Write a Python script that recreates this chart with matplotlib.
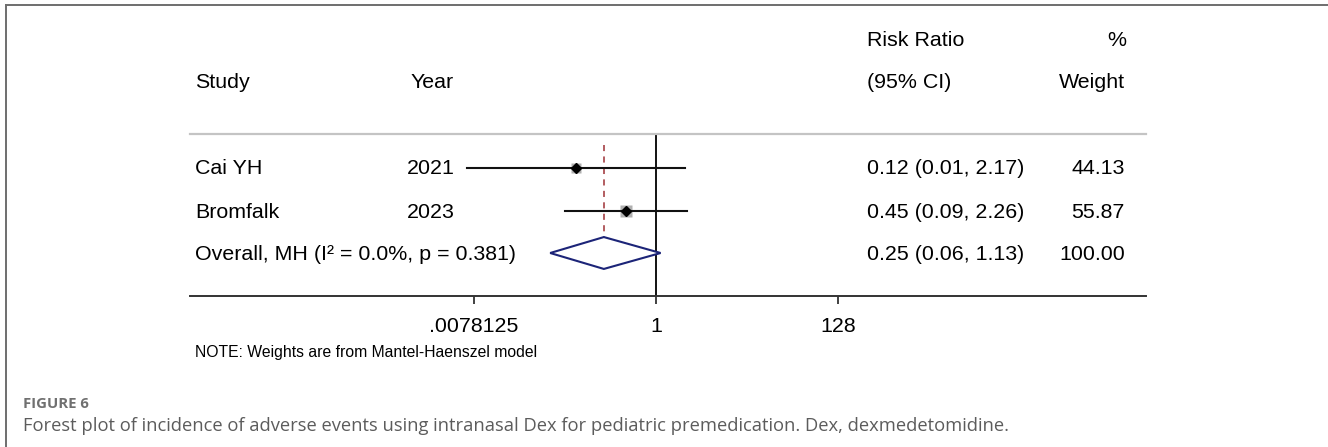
import numpy as np
import matplotlib
matplotlib.use("Agg")
import matplotlib.pyplot as plt
from matplotlib.lines import Line2D

# data
studies = ["Cai YH", "Bromfalk"]
years = ["2021", "2023"]
rr = [0.12, 0.45]
ci_lo = [0.0066, 0.09]
ci_hi = [2.17, 2.26]
weights = [44.13, 55.87]
rr_text = ["0.12 (0.01, 2.17)", "0.45 (0.09, 2.26)"]
weight_text = ["44.13", "55.87"]

overall_label = "Overall, MH (I\u00b2 = 0.0%, p = 0.381)"
overall_rr = 0.25
overall_lo = 0.06
overall_hi = 1.13
overall_text = "0.25 (0.06, 1.13)"
overall_weight = "100.00"

tick_vals = [2**-7, 1, 2**7]
tick_labels = [".0078125", "1", "128"]

W, H = 1328, 447
plt.rcParams['font.family'] = ['Liberation Sans', 'DejaVu Sans']

fig = plt.figure(figsize=(W/100, H/100), dpi=100)

def fx(x):
    return x / W

def fy(y):
    return 1 - y / H

# plot area in pixels: x 190..1146, y 134..296
ax = fig.add_axes([fx(190), fy(296), fx(1146) - fx(190), (296 - 134) / H])
ax.set_xscale('log', base=2)
px_per = 26.07
ax.set_xlim(2**((190 - 656) / px_per), 2**((1146 - 656) / px_per))
row_gap = 42.5
ax.set_ylim((296 - 168) / row_gap, (134 - 168) / row_gap)

for s in ['left', 'right']:
    ax.spines[s].set_visible(False)
ax.spines['top'].set_color('#c4c4c4')
ax.spines['top'].set_linewidth(1.6)
ax.spines['bottom'].set_color('#333333')
ax.spines['bottom'].set_linewidth(1.4)
ax.set_yticks([])
ax.set_xticks(tick_vals)
ax.set_xticklabels(tick_labels, fontsize=15.4)
ax.xaxis.set_minor_locator(matplotlib.ticker.NullLocator())
ax.tick_params(axis='x', direction='out', length=6, width=1.3, color='#333333', pad=9)

# null line
ax.axvline(1, color='black', lw=1.3)
# overall effect dashed line
ax.plot([overall_rr, overall_rr], [-0.55, 2.4], color='#9e3035', lw=1.1,
        dashes=(4, 3.5))

for i in range(len(studies)):
    ax.plot([ci_lo[i], ci_hi[i]], [i, i], color='#111111', lw=1.5, zorder=3)
    ms = 9.0 * (weights[i] / max(weights))
    ax.plot(rr[i], i, marker='s', ms=ms, color='#b0b0b0', mec='none', zorder=2)
    ax.plot(rr[i], i, marker='D', ms=5, color='black', zorder=4)

# overall diamond
dy = 0.375
ax.fill([overall_lo, overall_rr, overall_hi, overall_rr],
        [2, 2 - dy, 2, 2 + dy], facecolor='white', edgecolor='#1c2478',
        lw=1.5, zorder=3)

fs = 15.4
# headers
fig.text(fx(867), fy(40), "Risk Ratio", fontsize=fs, va='center')
fig.text(fx(1126), fy(40), "%", fontsize=fs, va='center', ha='right')
fig.text(fx(195), fy(82), "Study", fontsize=fs, va='center')
fig.text(fx(411), fy(82), "Year", fontsize=fs, va='center')
fig.text(fx(867), fy(82), "(95% CI)", fontsize=fs, va='center')
fig.text(fx(1125), fy(82), "Weight", fontsize=fs, va='center', ha='right')

row_y = [169, 212]
for i in range(len(studies)):
    fig.text(fx(195), fy(row_y[i]), studies[i], fontsize=fs, va='center')
    fig.text(fx(455), fy(row_y[i]), years[i], fontsize=fs, va='center', ha='right')
    fig.text(fx(867), fy(row_y[i]), rr_text[i], fontsize=fs, va='center')
    fig.text(fx(1125), fy(row_y[i]), weight_text[i], fontsize=fs, va='center', ha='right')

fig.text(fx(195), fy(254), overall_label, fontsize=fs, va='center')
fig.text(fx(867), fy(254), overall_text, fontsize=fs, va='center')
fig.text(fx(1125), fy(254), overall_weight, fontsize=fs, va='center', ha='right')

fig.text(fx(195), fy(353), "NOTE: Weights are from Mantel-Haenszel model",
         fontsize=11.3, va='center')

# caption
fig.text(fx(23), fy(404), "FIGURE 6", fontsize=10.7, fontweight='bold',
         color='#707070', va='center', family=['Open Sans', 'DejaVu Sans'])
fig.text(fx(23), fy(426),
         "Forest plot of incidence of adverse events using intranasal Dex for pediatric premedication. Dex, dexmedetomidine.",
         fontsize=13.25, color='#5c5c5c', va='center', family=['Open Sans', 'DejaVu Sans'])

# outer frame (left and top)
fig.add_artist(Line2D([fx(6), fx(6)], [fy(5), 0], color='#6e6e6e', lw=1.4))
fig.add_artist(Line2D([fx(6), 1], [fy(5), fy(5)], color='#6e6e6e', lw=1.4))

fig.savefig("out.png", dpi=100)
